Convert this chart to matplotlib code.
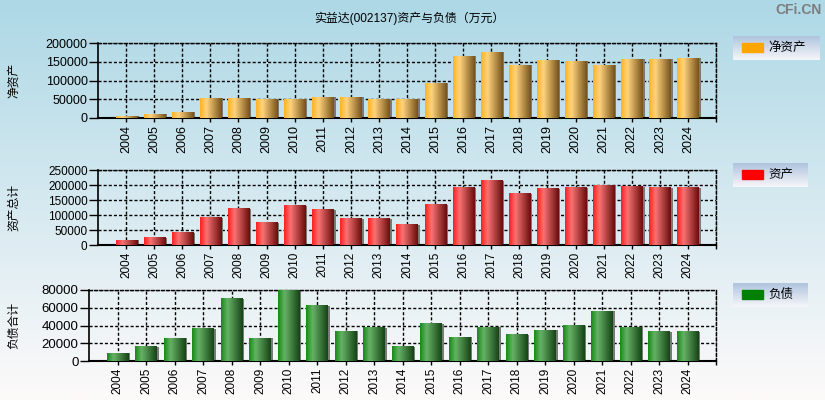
import numpy as np
import matplotlib
matplotlib.use('Agg')
import matplotlib.pyplot as plt
from matplotlib.patches import Rectangle

plt.rcParams['font.family'] = ['Liberation Sans', 'Noto Sans CJK SC', 'DejaVu Sans']

# 数据（万元）
years = ['2004', '2005', '2006', '2007', '2008', '2009', '2010', '2011', '2012', '2013', '2014',
         '2015', '2016', '2017', '2018', '2019', '2020', '2021', '2022', '2023', '2024']
net_assets = [5300, 10600, 15900, 53100, 53100, 50400, 50400, 55700, 55700, 50400, 50400,
              92900, 164600, 175200, 140700, 154000, 151300, 140700, 156600, 156600, 159300]
total_assets = [15500, 24300, 40900, 90700, 120600, 74100, 130500, 117200, 87400, 87400, 67500,
                133800, 190200, 213500, 170300, 186900, 190200, 198000, 193600, 190200, 190200]
liabilities = [9000, 15800, 25900, 36100, 69900, 25900, 80000, 62000, 33800, 37200, 15800,
               41700, 27000, 38300, 29300, 34900, 39800, 56300, 38300, 32700, 32700]

W, H = 825, 400
fig = plt.figure(figsize=(W / 100, H / 100), dpi=100)


def px(x0, y0, x1, y1):
    # rectangle en pixels (origine en haut a gauche) -> coordonnees figure
    return [x0 / W, 1 - y1 / H, (x1 - x0) / W, (y1 - y0) / H]


# fond degrade
bg = fig.add_axes([0, 0, 1, 1], zorder=-10)
bg.axis('off')
top_c = np.array([173, 216, 230]) / 255
bot_c = np.array([253, 250, 250]) / 255
t = np.linspace(0, 1, 256)[:, None, None]
bg.imshow(top_c * (1 - t) + bot_c * t, aspect='auto', extent=[0, 1, 0, 1])


def bar_gradient(left, light, dark):
    left, light, dark = [np.array(c) / 255 for c in (left, light, dark)]
    s = np.linspace(0, 1, 64)
    cols = []
    for v in s:
        if v < 0.3:
            cols.append(left + (light - left) * v / 0.3)
        else:
            cols.append(light + (dark - light) * (v - 0.3) / 0.7)
    return np.array(cols)[None, :, :]


def panel(rect, values, grad, ymax, ystep, ylabel, yfs, xfs):
    ax = fig.add_axes(rect)
    ax.set_facecolor('none')
    x = np.arange(len(years))
    ax.bar(x + 0.08, values, width=0.75, color='#7a7a7a', zorder=2)
    bars = ax.bar(x, values, width=0.75, color='none', zorder=3)
    for b in bars:
        ax.imshow(grad, extent=[b.get_x(), b.get_x() + b.get_width(), 0, b.get_height()],
                  aspect='auto', zorder=3, interpolation='bilinear')
    ax.set_xlim(-1, 21)
    ax.set_ylim(0, ymax)
    ax.set_yticks(np.arange(0, ymax + 1, ystep))
    ax.set_xticks(range(22))
    ax.set_xticklabels(years + [''], rotation=90, fontsize=xfs)
    ax.tick_params(axis='y', labelsize=yfs, length=6.5, width=1, pad=1)
    ax.tick_params(axis='x', length=3, width=1, pad=2)
    ax.set_axisbelow(True)
    ax.grid(True, color='black', linestyle=(0, (2.2, 1.5)), linewidth=1)
    ax.spines['left'].set_linewidth(1.2)
    ax.spines['bottom'].set_linewidth(1.5)
    for s in ('top', 'right'):
        ax.spines[s].set_linestyle((0, (2.2, 1.5)))
        ax.spines[s].set_linewidth(1)
    cy = 1 - (rect[1] + rect[3] / 2)
    fig.text(13.5 / W, 1 - cy, ylabel, rotation=90, ha='center', va='center',
             fontsize=8.5, family=['Noto Sans CJK SC'])
    return ax


def legend_box(x0, y0, x1, y1, label, color):
    lax = fig.add_axes(px(x0, y0, x1, y1))
    lax.axis('off')
    c1 = np.array([176, 196, 222]) / 255
    c2 = np.array([246, 246, 250]) / 255
    tt = np.linspace(0, 1, 64)[:, None, None]
    w, h = x1 - x0, y1 - y0
    lax.imshow(c1 * (1 - tt) + c2 * tt, aspect='auto', extent=[0, w, h, 0])
    lax.add_patch(Rectangle((9, 7), 21, 8.5, color=color))
    lax.text(35, h / 2 - 0.5, label, va='center', ha='left', fontsize=9,
             family=['Noto Sans CJK SC'])
    lax.set_xlim(0, w)
    lax.set_ylim(h, 0)


orange = bar_gradient((255, 178, 35), (255, 212, 125), (118, 82, 28))
red = bar_gradient((255, 30, 30), (248, 115, 115), (105, 12, 12))
green = bar_gradient((22, 138, 22), (102, 178, 102), (22, 68, 22))

panel(px(98, 43, 716, 118), net_assets, orange, 200000, 50000, '净资产', 9, 9)
panel(px(98, 170, 716, 245), total_assets, red, 250000, 50000, '资产总计', 8.5, 8.5)
panel(px(89, 290, 716, 361), liabilities, green, 80000, 20000, '负债合计', 9.5, 8.5)

legend_box(733, 36, 820, 60, '净资产', '#FFA500')
legend_box(733, 163, 808, 187, '资产', '#FF0000')
legend_box(733, 283, 808, 307, '负债', '#008000')

fig.text(409 / W, 1 - 18 / H, '实益达(002137)资产与负债（万元）', ha='center', va='center',
         fontsize=8.6)
fig.text(822 / W, 1 - 10 / H, 'CFi.CN', ha='right', va='center', fontsize=10,
         fontweight='bold', color='#7d7d7d')

fig.savefig('out.png', dpi=100)
